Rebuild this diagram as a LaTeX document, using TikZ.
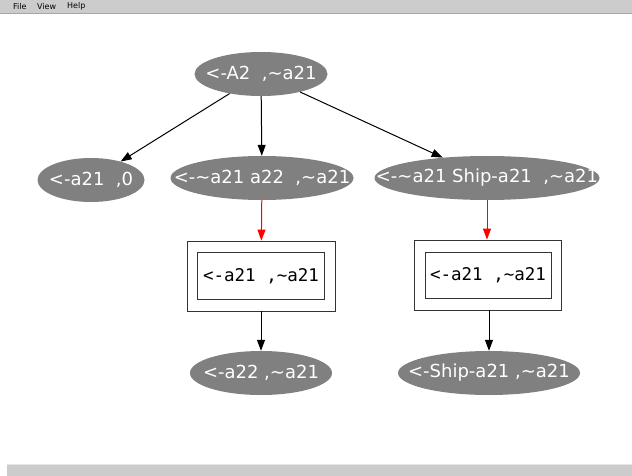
\documentclass[tikz,border=0pt]{standalone}
\usepackage{fontspec}
\setmainfont{DejaVu Sans}
\setmonofont{DejaVu Sans Mono}
\usepackage{tikz}
\usetikzlibrary{
	arrows.meta,
	positioning,
	shapes.geometric
}
\definecolor{nodegray}{RGB}{128,128,128}
\definecolor{bargray}{RGB}{204,204,204}
\newcommand{\tld}{\textasciitilde}
\newcommand{\rot}[1]{\makebox[0pt]{#1}}

\begin{document}
\begin{tikzpicture}[
			x=1pt, y=-1pt,
			font=\fontsize{18}{20}\selectfont,
			elip/.style={ellipse, fill=nodegray, text=white, inner sep=0pt, minimum height=44pt},
			caixa/.style={draw=black!80, line width=0.8pt, inner sep=0pt},
			texto/.style={caixa, font=\ttfamily\fontsize{17.5}{20}\selectfont},
			menu/.style={font=\fontsize{8}{9}\selectfont, anchor=west, inner sep=0pt},
			>={Triangle[length=11pt,width=8pt]},
			fl/.style={->, line width=1pt},
			flr/.style={fl, red}
		]

		\useasboundingbox (0,0) rectangle (632,476);

		% menu bar and status bar
		\fill[bargray] (0,0) rectangle (632,13);
		\draw[black!35] (0,13) -- (632,13);
		\node[menu] (file) at (13,6.5) {File};
		\node[menu] (view) at (37,6.5) {View};
		\node[menu] (help) at (67,6.5) {Help};
		\fill[bargray] (7,464) rectangle (632,476);
		\draw[black!10] (7,464) -- (632,464);

		\node[elip, minimum width=133pt] (a2) at (261,74) {\rot{<-A2\ \ ,\tld a21}};
		\node[elip, minimum width=107pt] (a21z) at (91,180) {\rot{<-a21\ \ ,0}};
		\node[elip, minimum width=183pt] (a22) at (262,178) {\rot{<-\tld a21 a22\ \ ,\tld a21}};
		\node[elip, minimum width=225pt] (ship) at (487,178) {\rot{<-\tld a21 Ship-a21\ \ ,\tld a21}};

		\node[caixa, minimum width=148pt, minimum height=70pt] (cx1) at (261,276) {};
		\node[texto, minimum width=127pt, minimum height=47pt] (cx1in) at (cx1.center) {<-a21 ,\tld a21};
		\node[caixa, minimum width=147pt, minimum height=70pt] (cx2) at (488,275) {};
		\node[texto, minimum width=126pt, minimum height=46pt] (cx2in) at (cx2.center) {<-a21 ,\tld a21};

		\node[elip, minimum width=142pt] (a22b) at (261,373) {\rot{<-a22 ,\tld a21}};
		\node[elip, minimum width=182pt] (shipb) at (489,373) {\rot{<-Ship-a21 ,\tld a21}};

		\draw[fl] (a2) -- (a21z);
		\draw[fl] (a2) -- (a22);
		\draw[fl] (a2) -- (ship);
		\draw[flr] (a22) -- (cx1);
		\draw[flr] (ship) -- (ship |- cx2.north);
		\draw[fl] (cx1) -- (a22b);
		\draw[fl] (cx2.south -| shipb) -- (shipb);
	\end{tikzpicture}
\end{document}
